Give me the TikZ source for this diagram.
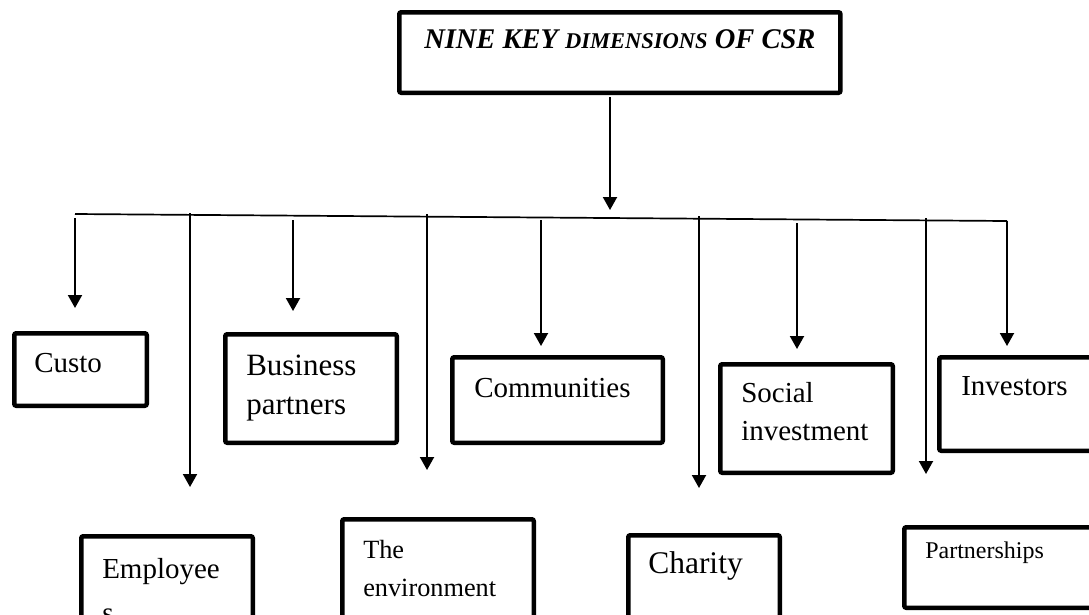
\documentclass[tikz,border=0pt]{standalone}
\usepackage{fontspec}
\setmainfont{Liberation Serif}
\usetikzlibrary{arrows.meta}

\tikzset{
    box/.style={draw, line width=4.5pt, rounded corners=2pt, anchor=north west,
        align=left, inner ysep=0pt},
    arr/.style={line width=2pt, -{Triangle[length=13pt, width=14pt]}},
    bar/.style={line width=1.7pt}
}

\begin{document}
\begin{tikzpicture}[x=1pt, y=-1pt]
    \clip (0,0) rectangle (1089,614);

    % Heading box, one line only
    \node[box, inner xsep=25pt, text height=35.75pt, text depth=44.75pt,
        font=\fontsize{28.5}{34}\selectfont] (title) at (397,10)
        {\textbf{\textit{NINE KEY {\fontsize{22.5}{28}\selectfont DIMENSIONS} OF CSR}}};

    % Upper row of dimensions
    \node[box, inner xsep=20pt, text width=92.5pt, text height=38.75pt, text depth=33.75pt,
        font=\fontsize{29}{38}\selectfont] (cust) at (12,331) {Custo};
    \node[box, inner xsep=21pt, text width=129.5pt, text height=40.75pt, text depth=67.75pt,
        font=\fontsize{31}{39}\selectfont] (bus) at (223,332) {Business\\partners};
    \node[box, inner xsep=22pt, text width=166.5pt, text height=39.75pt, text depth=45.75pt,
        font=\fontsize{29}{38}\selectfont] (comm) at (450,355) {Communities};
    \node[box, inner xsep=21pt, text width=130.5pt, text height=37.75pt, text depth=70.75pt,
        font=\fontsize{29}{38}\selectfont] (soc) at (718,362) {Social\\investment};
    \node[box, inner xsep=22pt, text width=114.5pt, text height=37.75pt, text depth=55.75pt,
        font=\fontsize{29}{38}\selectfont] (inv) at (937,355) {Investors};

    % Lower row of dimensions
    \node[box, inner xsep=21pt, text width=129.5pt, text height=41.75pt, text depth=69.75pt,
        font=\fontsize{29}{44}\selectfont] (emp) at (79,534) {Employee\\s};
    \node[box, inner xsep=21pt, text width=149.5pt, text height=38.75pt, text depth=89.75pt,
        font=\fontsize{26.3}{38}\selectfont] (env) at (340,517) {The\\environment};
    \node[box, inner xsep=20pt, text width=111.5pt, text height=37.75pt, text depth=74.75pt,
        font=\fontsize{31.5}{40}\selectfont] (char) at (626,533) {Charity};
    \node[box, inner xsep=21pt, text width=151.5pt, text height=30.75pt, text depth=49.75pt,
        font=\fontsize{24}{30}\selectfont] (part) at (902,525) {Partnerships};

    % Branch line and the points the arrows leave from
    \coordinate (hub) at (610,210);
    \coordinate (barL) at (75,214);
    \coordinate (barR) at (1007,221);
    \coordinate (dCust) at (75,218);
    \coordinate (dBus) at (293,220);
    \coordinate (dComm) at (541,220);
    \coordinate (dSoc) at (797,223);
    \coordinate (dEmp) at (190,213);
    \coordinate (dEnv) at (427,214);
    \coordinate (dChar) at (699,216);
    \coordinate (dPart) at (926,218);

    \draw[arr, shorten <=2pt] (hub |- title.south) -- (hub);
    \draw[bar] (barL) -- (barR);

    % Short arrows to the upper row
    \draw[arr, shorten >=23pt] (dCust) -- (dCust |- cust.north);
    \draw[arr, shorten >=21pt] (dBus) -- (dBus |- bus.north);
    \draw[arr, shorten >=9pt] (dComm) -- (dComm |- comm.north);
    \draw[arr, shorten >=13pt] (dSoc) -- (dSoc |- soc.north);
    \draw[arr, shorten >=9pt] (barR) -- (barR |- inv.north);

    % Long arrows to the lower row
    \draw[arr, shorten >=47pt] (dEmp) -- (dEmp |- emp.north);
    \draw[arr, shorten >=47pt] (dEnv) -- (dEnv |- env.north);
    \draw[arr, shorten >=45pt] (dChar) -- (dChar |- char.north);
    \draw[arr, shorten >=51pt] (dPart) -- (dPart |- part.north);
\end{tikzpicture}
\end{document}
